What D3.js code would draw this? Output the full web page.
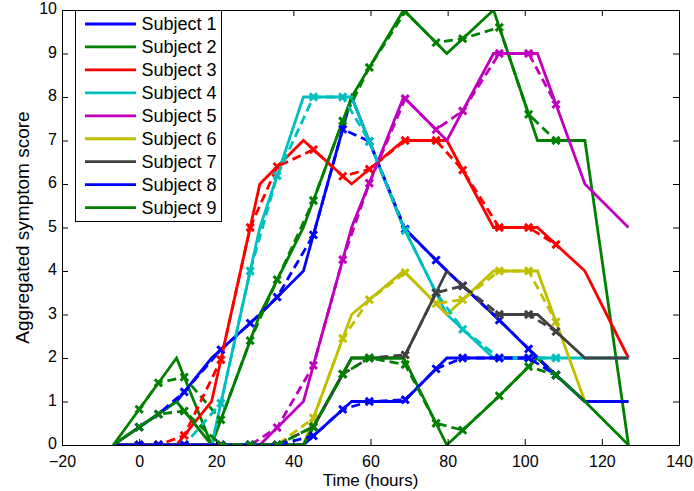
<!DOCTYPE html>
<html>
<head>
<meta charset="utf-8">
<script src="https://cdn.jsdelivr.net/npm/d3@7"></script>
<style>
  body { margin: 0; background: #fff; }
  svg text { font-family: "Liberation Sans", Arial, Helvetica, sans-serif; fill: #000; }
</style>
</head>
<body>
<svg id="chart" width="694" height="491"></svg>
<script>
// Subject names and MATLAB-style line colours
const subjects = ["Subject 1", "Subject 2", "Subject 3", "Subject 4", "Subject 5",
                  "Subject 6", "Subject 7", "Subject 8", "Subject 9"];
const colors = ["#0000ff", "#008000", "#ff0000", "#00bfbf", "#bf00bf",
                "#bfbf00", "#404040", "#0000ff", "#008000"];

// Reported symptom scores (solid lines)
const reportTimes = [-6.7, 9.7, 18.8, 31.3, 42.6, 55.1, 68.6, 79.8, 91.9, 103.3, 115.6, 126.9];
const reported1 = [0, 1, 2, 3, 4, 8, 5, 4, 3, 2, 1, 1];
const reported2 = [0, 2, 0, 3, 5, 8, 10, 9, 10, 7, 7, 0];
const reported3 = [0, 0, 1, 6, 7, 6, 7, 7, 5, 5, 4, 2];
const reported4 = [0, 0, 0, 5, 8, 8, 5, 3, 2, 2, 2, 2];
const reported5 = [0, 0, 0, 0, 1, 5, 8, 7, 9, 9, 6, 5];
const reported6 = [0, 0, 0, 0, 0, 3, 4, 3, 4, 4, 1, 1];
const reported7 = [0, 0, 0, 0, 0, 2, 2, 4, 3, 3, 2, 2];
const reported8 = [0, 0, 0, 0, 0, 1, 1, 2, 2, 2, 1, 1];
const reported9 = [0, 1, 0, 0, 0, 2, 2, 0, 1, 2, 1, 0];

// Scores at the sampling times (dashed lines with x markers)
const sampleTimes = [0, 5, 11.7, 21.2, 28.8, 35.8, 45.2, 52.8, 59.7, 69, 77, 83.9, 93.4, 101, 108.1];
const sampled1 = [0.41, 0.71, 1.22, 2.19, 2.80, 3.40, 4.83, 7.26, 6.98, 4.96, 4.25, 3.66, 2.87, 2.21, 1.61];
const sampled2 = [0.82, 1.43, 1.56, 0.58, 2.40, 3.80, 5.62, 7.45, 8.68, 9.96, 9.25, 9.34, 9.60, 7.60, 7.00];
const sampled3 = [0, 0, 0.22, 1.96, 5.00, 6.40, 6.79, 6.18, 6.34, 7.00, 7.00, 6.32, 5.00, 5.00, 4.61];
const sampled4 = [0, 0, 0, 0.96, 4.00, 6.19, 8.00, 8.00, 6.98, 4.93, 3.50, 2.66, 2.00, 2.00, 2.00];
const sampled5 = [0, 0, 0, 0, 0, 0.40, 1.83, 4.26, 6.02, 7.96, 7.25, 7.68, 9.00, 9.00, 7.83];
const sampled6 = [0, 0, 0, 0, 0, 0, 0.62, 2.45, 3.34, 3.96, 3.25, 3.34, 4.00, 4.00, 2.83];
const sampled7 = [0, 0, 0, 0, 0, 0, 0.42, 1.63, 2.00, 2.07, 3.50, 3.66, 3.00, 3.00, 2.61];
const sampled8 = [0, 0, 0, 0, 0, 0, 0.21, 0.82, 1.00, 1.04, 1.75, 2.00, 2.00, 2.00, 1.61];
const sampled9 = [0.41, 0.71, 0.78, 0, 0, 0, 0.42, 1.63, 2.00, 1.85, 0.50, 0.34, 1.13, 1.80, 1.61];

// Axis ticks
const xTicks = [-20, 0, 20, 40, 60, 80, 100, 120, 140];
const yTicks = [0, 1, 2, 3, 4, 5, 6, 7, 8, 9, 10];

const reported = [reported1, reported2, reported3, reported4, reported5, reported6, reported7, reported8, reported9];
const sampled = [sampled1, sampled2, sampled3, sampled4, sampled5, sampled6, sampled7, sampled8, sampled9];

const svg = d3.select("#chart");
const plot = { left: 62, right: 679, top: 10, bottom: 445 };

const x = d3.scaleLinear().domain([-20, 140]).range([plot.left, plot.right]);
const y = d3.scaleLinear().domain([0, 10]).range([plot.bottom, plot.top]);

svg.append("defs").append("clipPath").attr("id", "plotClip")
  .append("rect")
  .attr("x", plot.left).attr("y", plot.top)
  .attr("width", plot.right - plot.left).attr("height", plot.bottom - plot.top);

const line = d3.line().x(d => x(d[0])).y(d => y(d[1]));
const lines = svg.append("g").attr("clip-path", "url(#plotClip)");

// Solid reported curves
reported.forEach((vals, i) => {
  lines.append("path")
    .datum(reportTimes.map((t, k) => [t, vals[k]]))
    .attr("d", line)
    .attr("fill", "none")
    .attr("stroke", colors[i])
    .attr("stroke-width", 2.8)
    .attr("stroke-linejoin", "miter");
});

// Dashed sampled curves with x markers
const markerPath = "M-3.6,-3.6L3.6,3.6M-3.6,3.6L3.6,-3.6";
sampled.forEach((vals, i) => {
  const pts = sampleTimes.map((t, k) => [t, vals[k]]);
  lines.append("path")
    .datum(pts)
    .attr("d", line)
    .attr("fill", "none")
    .attr("stroke", colors[i])
    .attr("stroke-width", 2.8)
    .attr("stroke-dasharray", "9,5");
  lines.append("g").selectAll("path")
    .data(pts)
    .join("path")
    .attr("transform", d => `translate(${x(d[0])},${y(d[1])})`)
    .attr("d", markerPath)
    .attr("fill", "none")
    .attr("stroke", colors[i])
    .attr("stroke-width", 3);
});

// Axes: box with inward ticks on all four sides
const tickFont = 16;
const styleAxis = g => {
  g.select(".domain").attr("stroke", "#000").attr("stroke-width", 1);
  g.selectAll(".tick line").attr("stroke", "#000").attr("stroke-width", 1);
  g.selectAll(".tick text").attr("font-size", tickFont).attr("font-family", null);
};

svg.append("g")
  .attr("transform", `translate(0,${plot.bottom})`)
  .call(d3.axisBottom(x).tickValues(xTicks).tickSizeInner(-6).tickSizeOuter(0).tickPadding(10.5))
  .call(styleAxis);
svg.append("g")
  .attr("transform", `translate(0,${plot.top})`)
  .call(d3.axisTop(x).tickValues(xTicks).tickSizeInner(-6).tickSizeOuter(0).tickFormat(""))
  .call(styleAxis);
svg.append("g")
  .attr("transform", `translate(${plot.left},0)`)
  .call(d3.axisLeft(y).tickValues(yTicks).tickSizeInner(-6).tickSizeOuter(0).tickPadding(5))
  .call(styleAxis)
  .call(g => g.selectAll(".tick text").attr("dy", "0.22em"));
svg.append("g")
  .attr("transform", `translate(${plot.right},0)`)
  .call(d3.axisRight(y).tickValues(yTicks).tickSizeInner(-6).tickSizeOuter(0).tickFormat(""))
  .call(styleAxis);

// Axis titles
svg.append("text")
  .attr("x", (plot.left + plot.right) / 2)
  .attr("y", 486)
  .attr("text-anchor", "middle")
  .attr("font-size", 17)
  .text("Time (hours)");
svg.append("text")
  .attr("transform", `translate(29,${(plot.top + plot.bottom) / 2}) rotate(-90)`)
  .attr("text-anchor", "middle")
  .attr("font-size", 19)
  .text("Aggregated symptom score");

// Legend
const legend = svg.append("g");
legend.append("rect")
  .attr("x", 75.5).attr("y", 10.5)
  .attr("width", 146).attr("height", 211)
  .attr("fill", "#fff").attr("stroke", "#000").attr("stroke-width", 1);
subjects.forEach((name, i) => {
  const ly = 24 + i * 22.95;
  legend.append("line")
    .attr("x1", 85).attr("x2", 136)
    .attr("y1", ly).attr("y2", ly)
    .attr("stroke", colors[i]).attr("stroke-width", 2.8);
  legend.append("text")
    .attr("x", 141.5).attr("y", ly)
    .attr("dy", "0.35em")
    .attr("font-size", 18)
    .text(name);
});
</script>
</body>
</html>
